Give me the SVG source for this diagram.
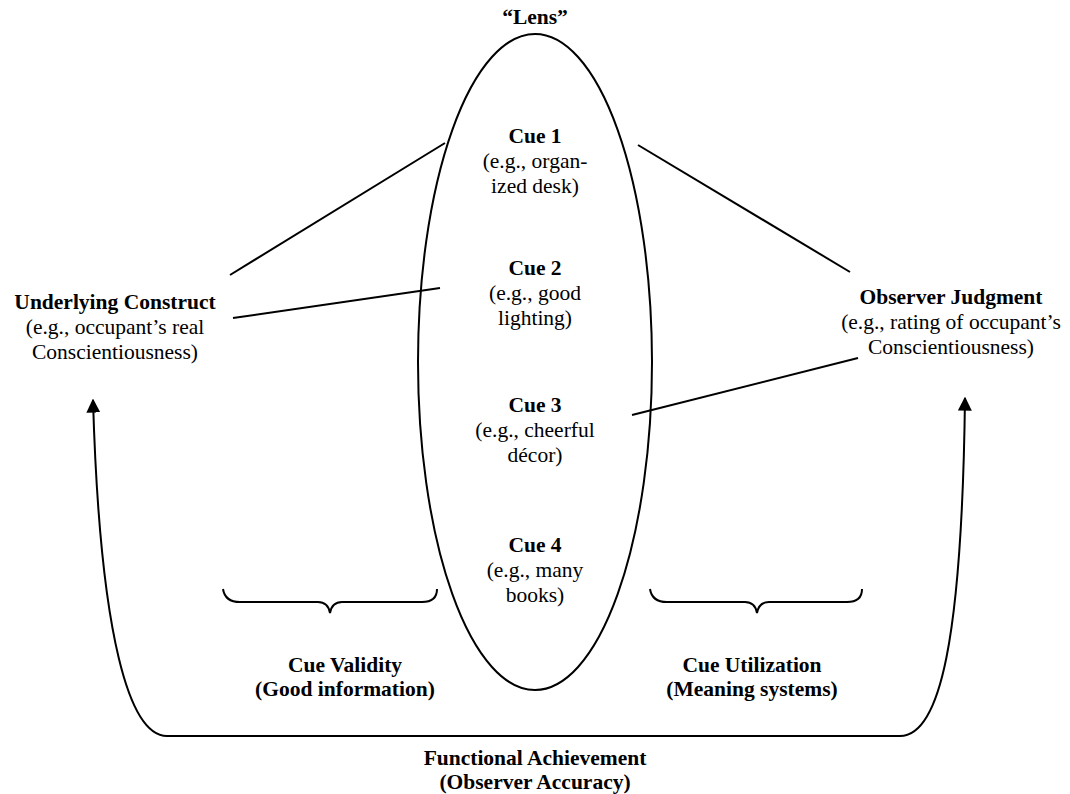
<svg xmlns="http://www.w3.org/2000/svg" width="1070" height="794" viewBox="0 0 1070 794">
<style>
text{font-family:"Liberation Serif","Times New Roman",serif;font-size:21.5px;fill:#000;text-anchor:middle}
.b{font-weight:bold}
.ln{stroke:#000;stroke-width:2;fill:none}
</style>
<defs>
<marker id="ah" viewBox="0 0 10 10" refX="9" refY="5" markerWidth="14" markerHeight="14" markerUnits="userSpaceOnUse" orient="auto">
<path d="M0,0 L10,5 L0,10 z" fill="#000"/>
</marker>
</defs>
<rect width="1070" height="794" fill="#fff"/>
<g id="connectors">
<line class="ln" x1="230" y1="275" x2="445" y2="143"/>
<line class="ln" x1="233" y1="318" x2="440" y2="288"/>
<line class="ln" x1="638" y1="145" x2="850" y2="272"/>
<line class="ln" x1="632" y1="415" x2="858" y2="358"/>
<path class="ln" d="M600,736 L167,736 C130,736 100,640 93,400" marker-end="url(#ah)"/>
<path class="ln" d="M500,736 L900,736 C940,736 962,640 965,398" marker-end="url(#ah)"/>
</g>
<g id="lens">
<ellipse class="ln" cx="535" cy="362" rx="117" ry="328"/>
<text class="b" x="535" y="24">“Lens”</text>
</g>
<g id="cue1">
<text class="b" x="535" y="143">Cue 1</text>
<text x="535" y="168">(e.g., organ-</text>
<text x="535" y="193">ized desk)</text>
</g>
<g id="cue2">
<text class="b" x="535" y="275">Cue 2</text>
<text x="535" y="300">(e.g., good</text>
<text x="535" y="325">lighting)</text>
</g>
<g id="cue3">
<text class="b" x="535" y="412">Cue 3</text>
<text x="535" y="437">(e.g., cheerful</text>
<text x="535" y="462">décor)</text>
</g>
<g id="cue4">
<text class="b" x="535" y="552">Cue 4</text>
<text x="535" y="577">(e.g., many</text>
<text x="535" y="602">books)</text>
</g>
<g id="construct">
<text class="b" x="115" y="309">Underlying Construct</text>
<text x="115" y="334">(e.g., occupant’s real</text>
<text x="115" y="359">Conscientiousness)</text>
</g>
<g id="judgment">
<text class="b" x="951" y="304">Observer Judgment</text>
<text x="951" y="329">(e.g., rating of occupant’s</text>
<text x="951" y="354">Conscientiousness)</text>
</g>
<g id="validity">
<path class="ln" d="M223,589 Q225,602 240,602 L318,602 Q328,602 330,613 Q332,602 342,602 L422,602 Q437,602 437,589"/>
<text class="b" x="345" y="672">Cue Validity</text>
<text class="b" x="345" y="696">(Good information)</text>
</g>
<g id="utilization">
<path class="ln" d="M650,589 Q652,602 667,602 L745,602 Q755,602 757,613 Q759,602 769,602 L847,602 Q862,602 862,589"/>
<text class="b" x="752" y="672">Cue Utilization</text>
<text class="b" x="752" y="696">(Meaning systems)</text>
</g>
<g id="achievement">
<text class="b" x="535" y="765">Functional Achievement</text>
<text class="b" x="535" y="789">(Observer Accuracy)</text>
</g>
</svg>
